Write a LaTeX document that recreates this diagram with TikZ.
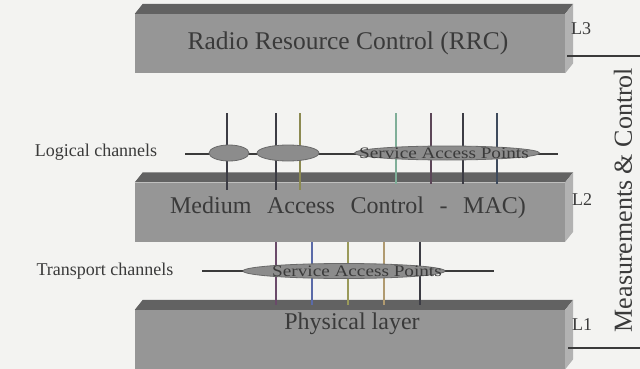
\documentclass[tikz,border=0pt]{standalone}
\usepackage{fontspec}
\setmainfont{Liberation Serif}
\usetikzlibrary{positioning,shapes.geometric,calc}

\definecolor{paper}{RGB}{243,243,241}
\definecolor{slabfront}{RGB}{150,150,150}
\definecolor{slabtop}{RGB}{98,98,98}
\definecolor{slabside}{RGB}{178,178,178}
\definecolor{inkgrey}{RGB}{58,58,58}
\definecolor{sapgrey}{RGB}{140,140,140}
\definecolor{sapedge}{RGB}{105,105,105}
\definecolor{chdark}{RGB}{60,60,68}
\definecolor{cholive}{RGB}{140,138,82}
\definecolor{chsage}{RGB}{127,174,152}
\definecolor{chplum}{RGB}{92,70,88}
\definecolor{chslate}{RGB}{62,74,92}
\definecolor{chpurple}{RGB}{106,74,106}
\definecolor{chblue}{RGB}{90,106,168}
\definecolor{chtan}{RGB}{176,154,112}
\definecolor{chkhaki}{RGB}{154,154,90}

\newcommand{\slabfaces}[1]{%
  \fill[slabtop] (#1.north west) -- ([shift={(8,-10)}]#1.north west)
    -- ([shift={(8,-10)}]#1.north east) -- (#1.north east) -- cycle;
  \fill[slabside] (#1.north east) -- ([shift={(8,-10)}]#1.north east)
    -- ([shift={(8,-10)}]#1.south east) -- (#1.south east) -- cycle;}

\begin{document}
\begin{tikzpicture}[x=1pt, y=-1pt,
  slab/.style={fill=slabfront, minimum width=430, minimum height=59, inner sep=0pt},
  layertext/.style={text=inkgrey, font=\fontsize{24}{28}\selectfont, inner sep=0pt},
  levellabel/.style={text=inkgrey, font=\fontsize{18}{20}\selectfont, inner sep=0pt},
  chanlabel/.style={text=inkgrey, font=\fontsize{18}{20}\selectfont, inner sep=0pt},
  sap/.style={ellipse, fill=sapgrey, draw=sapedge, line width=0.8pt, inner sep=0pt},
  saptext/.style={text=inkgrey, font=\fontsize{16}{16}\selectfont, inner sep=0pt},
  chan/.style={line width=1.8pt},
  bus/.style={draw=inkgrey, line width=1.4pt}]

\useasboundingbox (0,0) rectangle (640,369);
\fill[paper] (0,0) rectangle (640,369);

% Capas
\node[slab] (rrc) at (350,43.5) {};
\slabfaces{rrc}
\node[slab] (mac) at (350,212) {};
\slabfaces{mac}
\node[slab] (phy) at (350,339.5) {};
\slabfaces{phy}

\node[layertext, font=\fontsize{25.5}{28}\selectfont] (rrctext) at (348,43) {Radio Resource Control (RRC)};
\node[layertext] (mactext) at (348,208) {\spaceskip=0.65em Medium Access Control - MAC)};
\node[layertext] (phytext) at (352,324) {Physical layer};

% Niveles
\node[levellabel] (lthree) at (581,29) {L3};
\node[levellabel] (ltwo) at (582,200) {L2};
\node[levellabel] (lone) at (582,325) {L1};
\coordinate (lthreeW) at (567,56);
\coordinate (lthreeE) at (640,56);
\coordinate (loneW) at (568,348);
\coordinate (loneE) at (640,348);
\draw[bus] (lthreeW) -- (lthreeE);
\draw[bus] (loneW) -- (loneE);

\node[layertext, font=\fontsize{26}{28}\selectfont, rotate=90] (meas) at (623,200) {Measurements \& Control};

% Canales logicos
\coordinate (logW) at (185,154);
\coordinate (logE) at (558,154);
\draw[bus] (logW) -- (logE);
\foreach \x/\c/\d [count=\i] in {227/chdark/8, 276/chdark/8, 300/cholive/8,
    396/chsage/2, 431/chplum/2, 463/chdark/2, 497/chslate/2}
{
  \coordinate (lc\i) at (\x,113);
  \draw[chan, draw=\c] (lc\i) -- ($(lc\i |- mac.north)+(0,\d)$);
}
\node[sap, minimum width=40, minimum height=16] (sapA) at (229,153) {};
\node[sap, minimum width=62, minimum height=16] (sapB) at (288,153) {};
\node[sap, minimum width=185, minimum height=14] (sapC) at (447,153) {};
\node[saptext] (sapCtext) at (444,153) {\scalebox{1.2}[1]{Service Access Points}};
\node[chanlabel] (logical) at (96,152) {Logical channels};

% Canales de transporte
\coordinate (trW) at (202,271);
\coordinate (trE) at (494,271);
\draw[bus] (trW) -- (trE);
\foreach \x/\c [count=\i] in {276/chpurple, 312/chblue, 348/chkhaki, 384/chtan, 420/chdark}
{
  \coordinate (tc\i) at (\x,242);
  \draw[chan, draw=\c] (tc\i) -- ($(tc\i |- phy.north)+(0,-5)$);
}
\node[sap, minimum width=202, minimum height=15] (sapD) at (344,271) {};
\node[saptext] (sapDtext) at (357,271) {\scalebox{1.2}[1]{Service Access Points}};
\node[chanlabel] (transport) at (105,271) {Transport channels};

\end{tikzpicture}
\end{document}
